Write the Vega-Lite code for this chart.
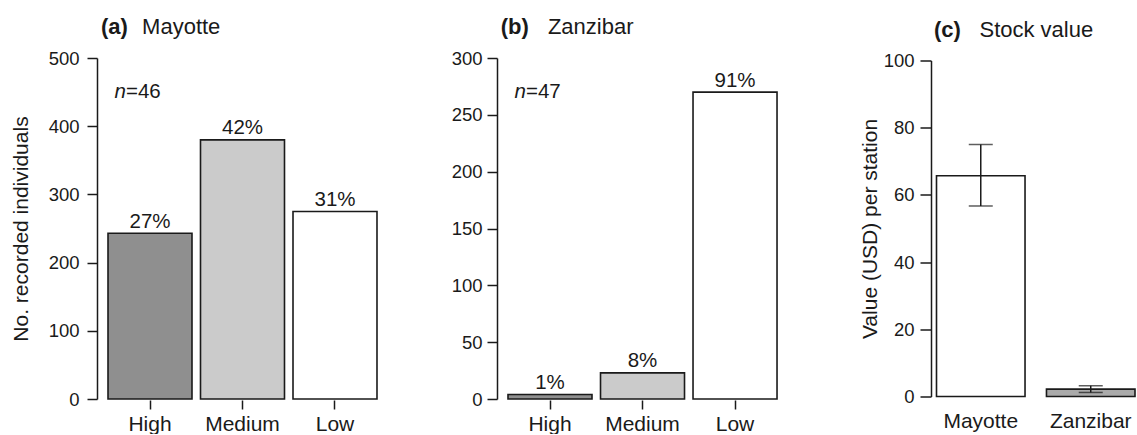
{
  "$schema": "https://vega.github.io/schema/vega-lite/v6.json",
  "padding": {"left": 10, "top": 16, "right": 0, "bottom": 0},
  "spacing": 63,
  "center": true,
  "resolve": {"scale": {"color": "independent"}},
  "config": {
    "font": "Liberation Sans",
    "view": {"stroke": null},
    "axis": {"grid": false, "domainColor": "#1a1a1a", "tickColor": "#1a1a1a", "labelColor": "#1a1a1a", "titleColor": "#1a1a1a", "domainWidth": 1.5, "tickWidth": 1.5, "titleFontWeight": "normal", "labelFont": "Liberation Sans", "titleFont": "Liberation Sans"},
    "title": {"anchor": "start", "frame": "group", "fontSize": 22, "fontWeight": "bold", "subtitleFontSize": 22, "subtitleFontWeight": "normal", "color": "#1a1a1a", "subtitleColor": "#1a1a1a", "subtitlePadding": -22, "offset": 10, "font": "Liberation Sans", "subtitleFont": "Liberation Sans"},
    "text": {"font": "Liberation Sans", "color": "#1a1a1a"}
  },
  "hconcat": [
    {
      "width": 291,
      "height": 341,
      "title": {"text": "(a)", "subtitle": "\u200b\u00a0\u00a0\u00a0\u00a0\u00a0\u00a0\u2009Mayotte", "dx": 4},
      "layer": [
        {
          "data": {"values": [
            {"level": "High", "count": 243, "pct": "27%"},
            {"level": "Medium", "count": 380, "pct": "42%"},
            {"level": "Low", "count": 275, "pct": "31%"}
          ]},
          "encoding": {
            "x": {"field": "level", "type": "nominal", "sort": ["High", "Medium", "Low"], "scale": {"paddingInner": 0.092, "paddingOuter": 0.119}, "axis": {"title": null, "labelAngle": 0, "domain": false, "ticks": true, "tickSize": 9, "offset": 1, "labelPadding": 4, "labelFontSize": 21}},
            "y": {"field": "count", "type": "quantitative", "scale": {"domain": [0, 500], "nice": false}, "axis": {"values": [0, 100, 200, 300, 400, 500], "title": "No. recorded individuals", "titleFontSize": 21, "titlePadding": 17, "tickSize": 10, "labelPadding": 8, "labelFontSize": 18.5}}
          },
          "layer": [
            {"mark": {"type": "bar", "stroke": "#1a1a1a", "strokeWidth": 1.6}, "encoding": {"color": {"field": "level", "type": "nominal", "scale": {"domain": ["High", "Medium", "Low"], "range": ["#8f8f8f", "#cbcbcb", "#ffffff"]}, "legend": null}}},
            {"mark": {"type": "text", "baseline": "alphabetic", "dy": -5.5, "fontSize": 20.5}, "encoding": {"text": {"field": "pct"}}}
          ]
        },
        {
          "data": {"values": [{"ital": "n", "rest": "=46"}]},
          "mark": {"type": "text", "baseline": "alphabetic", "align": "right", "dx": -24, "fontSize": 20.5, "fontStyle": "italic"},
          "encoding": {"x": {"datum": "High", "type": "nominal"}, "y": {"datum": 442, "type": "quantitative"}, "text": {"field": "ital", "type": "nominal"}}
        },
        {
          "data": {"values": [{"ital": "n", "rest": "=46"}]},
          "mark": {"type": "text", "baseline": "alphabetic", "align": "left", "dx": -24, "fontSize": 20.5},
          "encoding": {"x": {"datum": "High", "type": "nominal"}, "y": {"datum": 442, "type": "quantitative"}, "text": {"field": "rest", "type": "nominal"}}
        }
      ]
    },
    {
      "width": 299,
      "height": 341,
      "title": {"text": "(b)", "subtitle": "\u200b\u00a0\u00a0\u00a0\u00a0\u00a0\u00a0\u00a0\u2009Zanzibar", "dx": 3.7},
      "layer": [
        {
          "data": {"values": [
            {"level": "High", "count": 4, "pct": "1%"},
            {"level": "Medium", "count": 23, "pct": "8%"},
            {"level": "Low", "count": 270, "pct": "91%"}
          ]},
          "encoding": {
            "x": {"field": "level", "type": "nominal", "sort": ["High", "Medium", "Low"], "scale": {"paddingInner": 0.092, "paddingOuter": 0.162, "align": 0.367}, "axis": {"title": null, "labelAngle": 0, "domain": false, "ticks": true, "tickSize": 9, "offset": 1, "labelPadding": 4, "labelFontSize": 21}},
            "y": {"field": "count", "type": "quantitative", "scale": {"domain": [0, 300], "nice": false}, "axis": {"values": [0, 50, 100, 150, 200, 250, 300], "title": null, "tickSize": 10, "labelPadding": 5, "labelFontSize": 18.5}}
          },
          "layer": [
            {"mark": {"type": "bar", "stroke": "#1a1a1a", "strokeWidth": 1.6}, "encoding": {"color": {"field": "level", "type": "nominal", "scale": {"domain": ["High", "Medium", "Low"], "range": ["#8f8f8f", "#cbcbcb", "#ffffff"]}, "legend": null}}},
            {"mark": {"type": "text", "baseline": "alphabetic", "dy": -5.5, "fontSize": 20.5}, "encoding": {"text": {"field": "pct"}}}
          ]
        },
        {
          "data": {"values": [{"ital": "n", "rest": "=47"}]},
          "mark": {"type": "text", "baseline": "alphabetic", "align": "right", "dx": -24, "fontSize": 20.5, "fontStyle": "italic"},
          "encoding": {"x": {"datum": "High", "type": "nominal"}, "y": {"datum": 265, "type": "quantitative"}, "text": {"field": "ital", "type": "nominal"}}
        },
        {
          "data": {"values": [{"ital": "n", "rest": "=47"}]},
          "mark": {"type": "text", "baseline": "alphabetic", "align": "left", "dx": -24, "fontSize": 20.5},
          "encoding": {"x": {"datum": "High", "type": "nominal"}, "y": {"datum": 265, "type": "quantitative"}, "text": {"field": "rest", "type": "nominal"}}
        }
      ]
    },
    {
      "width": 204,
      "height": 336,
      "title": {"text": "(c)", "subtitle": "\u200b\u00a0\u00a0\u00a0\u00a0\u00a0\u00a0\u2009\u2009Stock value", "dx": 3},
      "data": {"values": [
        {"site": "Mayotte", "value": 65.7, "lo": 56.7, "hi": 75.0},
        {"site": "Zanzibar", "value": 2.2, "lo": 1.2, "hi": 3.2}
      ]},
      "encoding": {
        "x": {"field": "site", "type": "nominal", "sort": ["Mayotte", "Zanzibar"], "scale": {"paddingInner": 0.195, "paddingOuter": 0.025, "align": 1}, "axis": {"title": null, "labelAngle": 0, "domain": false, "ticks": false, "tickSize": 0, "labelPadding": 14, "labelFontSize": 21}}
      },
      "layer": [
        {"mark": {"type": "bar", "stroke": "#1a1a1a", "strokeWidth": 1.6}, "encoding": {
          "y": {"field": "value", "type": "quantitative", "scale": {"domain": [0, 100], "nice": false}, "axis": {"values": [0, 20, 40, 60, 80, 100], "title": "Value (USD) per station", "titleFontSize": 21, "titlePadding": 3, "tickSize": 11, "labelPadding": 6, "labelFontSize": 18.5}},
          "color": {"field": "site", "type": "nominal", "scale": {"domain": ["Mayotte", "Zanzibar"], "range": ["#ffffff", "#aaaaaa"]}, "legend": null}}},
        {"mark": {"type": "rule", "color": "#1a1a1a", "strokeWidth": 1.5}, "encoding": {"y": {"field": "lo", "type": "quantitative"}, "y2": {"field": "hi"}}},
        {"mark": {"type": "tick", "color": "#1a1a1a", "thickness": 1.5, "size": 24, "orient": "horizontal"}, "encoding": {"y": {"field": "lo", "type": "quantitative"}}},
        {"mark": {"type": "tick", "color": "#1a1a1a", "thickness": 1.5, "size": 24, "orient": "horizontal"}, "encoding": {"y": {"field": "hi", "type": "quantitative"}}}
      ]
    }
  ]
}
